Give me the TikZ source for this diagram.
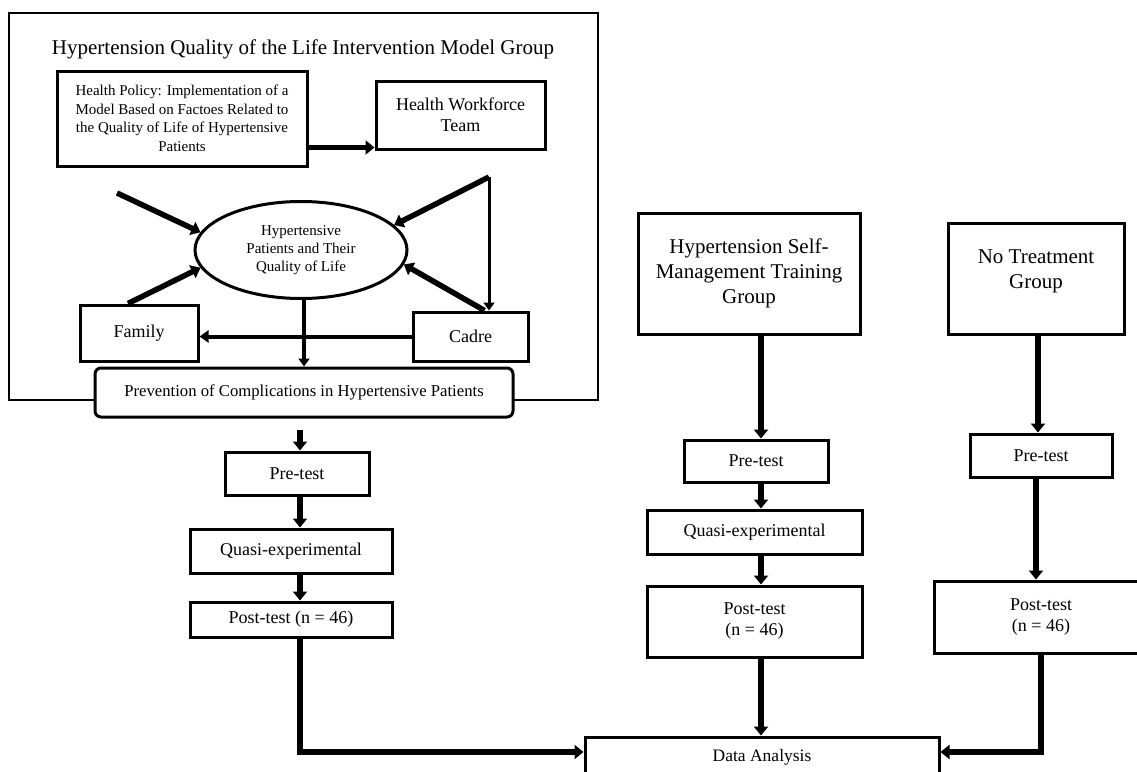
\documentclass[tikz,border=0pt]{standalone}
\usepackage{fontspec}
\setmainfont{Liberation Serif}
\usetikzlibrary{arrows.meta,shapes.geometric,calc}
\begin{document}
\begin{tikzpicture}[x=1pt,y=-1pt,
  box/.style={draw, line width=3pt, fill=white, inner sep=0pt, align=center, font=\fontsize{18}{21}\selectfont},
  bigbox/.style={box, font=\fontsize{21}{25}\selectfont},
  smallbox/.style={box, font=\fontsize{15}{18.5}\selectfont},
  txt/.style={inner sep=0pt, align=center},
  arr/.style={line width=5.5pt, -{Triangle[width=14pt,length=9pt]}},
  thinarr/.style={line width=3pt, -{Triangle[width=11pt,length=8pt]}},
  midarr/.style={line width=4pt, -{Triangle[width=12pt,length=9pt]}},
  frame/.style={line width=1.3pt}]
\clip (0,0) rectangle (1137,771);
\fill[white] (0,0) rectangle (1137,771);

% outer frame of the intervention model group
\draw[frame] (9,13) rectangle (598,400);
\node[txt, font=\fontsize{21}{25}\selectfont] (title) at (303,49) {Hypertension Quality of the Life Intervention Model Group};

% model nodes
\node[smallbox, minimum width=250, minimum height=95] (hp) at (182,118.5)
  {Health Policy: Implementation of a\\Model Based on Factoes Related to\\the Quality of Life of Hypertensive\\Patients};
\node[box, minimum width=169, minimum height=68] (hwt) at (460.5,115) {Health Workforce\\Team};
\node[ellipse, draw, line width=3pt, inner sep=0pt, minimum width=212, minimum height=97, align=center,
  font=\fontsize{15}{18}\selectfont] (pat) at (301,250) {Hypertensive\\Patients and Their\\Quality of Life};
\node[box, minimum width=118, minimum height=56] (fam) at (139,333) {Family};
\node[box, minimum width=115, minimum height=49] (cad) at (470.5,336.5) {Cadre};

\coordinate (tl) at (117,193);
\coordinate (tr) at (489,177);
\path (hwt.south west) ++(0,-3) coordinate (hwin);

\draw[arr] (hp.east |- hwin) -- (hwin);
\draw[arr] (tl) -- (pat.170);
\draw[arr] ($(fam.north)+(-11,0)$) -- (pat.190);
\draw[arr] (tr) -- (pat.15);
\draw[thinarr] (tr) -- (tr |- cad.north);
\draw[arr] ($(cad.north east)+(-45,0)$) -- (pat.352);
\draw[midarr] (cad.west) -- (cad.west -| fam.east);

\node[box, rounded corners=6pt, minimum width=418, minimum height=49, font=\fontsize{16.7}{20}\selectfont] (prev) at (304,392.5)
  {Prevention of Complications in Hypertensive Patients};
\draw[thinarr, line width=3.5pt] (prev.north |- pat.south) -- (prev.north);

% left column
\coordinate (c1) at (300,430);
\node[box, minimum width=144, minimum height=43] (pre1) at (297,473.5) {Pre-test};
\node[box, minimum width=202, minimum height=44] (q1) at (291,551) {Quasi-experimental};
\node[box, minimum width=202, minimum height=35] (post1) at (291,619.5) {Post-test (n = 46)};
\draw[arr] (c1) -- (pre1.north -| c1);
\draw[arr] (pre1.south -| c1) -- (q1.north -| c1);
\draw[arr] (q1.south -| c1) -- (post1.north -| c1);

% middle column
\coordinate (m) at (761,0);
\node[bigbox, minimum width=222, minimum height=121] (hsm) at (749,273.5) {Hypertension Self-\\Management Training\\Group};
\node[box, minimum width=144, minimum height=42] (pre2) at (756,461) {Pre-test};
\node[box, minimum width=215, minimum height=44] (q2) at (754.5,532) {Quasi-experimental};
\node[box, minimum width=215, minimum height=71] (post2) at (754.5,621.5) {Post-test\\(n = 46)};
\draw[arr] (hsm.south -| m) -- (pre2.north -| m);
\draw[arr] (pre2.south -| m) -- (q2.north -| m);
\draw[arr] (q2.south -| m) -- (post2.north -| m);

% right column
\coordinate (r) at (1038,0);
\node[bigbox, minimum width=176, minimum height=111] (nt) at (1036,278.5) {};
\node[txt, font=\fontsize{21}{25}\selectfont] (ntt) at (1036,271) {No Treatment\\Group};
\node[box, minimum width=142, minimum height=43] (pre3) at (1041,455.5) {Pre-test};
\node[box, minimum width=214, minimum height=72] (post3) at (1041,617) {Post-test\\(n = 46)};
\draw[arr] (nt.south -| r) -- (pre3.north -| r);
\draw[arr] ($(pre3.south)+(-5,0)$) -- ($(post3.north)+(-5,0)$);

% data analysis
\node[box, minimum width=354, minimum height=40, font=\fontsize{17.5}{21}\selectfont] (data) at (762,757) {Data Analysis};
\draw[arr] (post1.south -| c1) |- ($(data.west)+(0,-5)$);
\draw[arr] (post2.south -| m) -- (data.north -| m);
\draw[arr] (post3.south) |- ($(data.east)+(0,-5)$);
\end{tikzpicture}
\end{document}
